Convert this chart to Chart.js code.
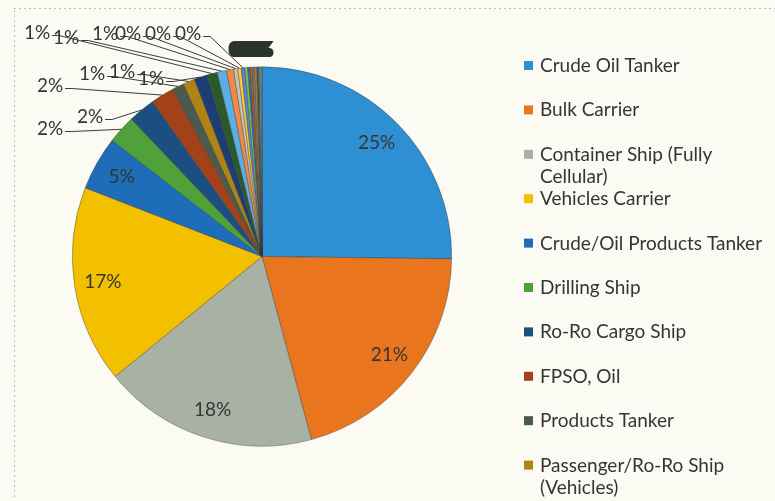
<!DOCTYPE html>
<html>
<head>
<meta charset="utf-8">
<script src="https://cdn.jsdelivr.net/npm/chart.js@4.4.1/dist/chart.umd.min.js"></script>
<style>
  html, body { margin: 0; padding: 0; background: #fbfaf3; }
  #wrap { position: relative; width: 775px; height: 501px; }
</style>
</head>
<body>
<div id="wrap"><canvas id="shipTypeChart" width="775" height="501"></canvas></div>
<script>
// Fleet share by ship type (percent of total)
const shipTypes = [
    'Crude Oil Tanker', 'Bulk Carrier', 'Container Ship (Fully\nCellular)', 'Vehicles Carrier',
    'Crude/Oil Products Tanker', 'Drilling Ship', 'Ro-Ro Cargo Ship', 'FPSO, Oil', 'Products Tanker',
    'Passenger/Ro-Ro Ship\n(Vehicles)', 'Chemical/Products Tanker', 'General Cargo Ship', 'LPG Tanker',
    'LNG Tanker', 'Offshore Supply Ship', 'Cruise Ship', 'Heavy Load Carrier', 'Chemical Tanker',
    'Refrigerated Cargo Ship', 'Tug', 'Research Vessel', 'Pipe Layer', 'Crane Ship',
    'Cement Carrier', 'Dredger', 'Fishing Vessel', 'Wood Chips Carrier'
];
const sharePct = [
    25.2, 20.6, 18.3, 16.8, 4.6, 2.4, 2.3, 2.0, 1.0, 1.0, 1.1, 0.9, 0.8, 0.6,
    0.35, 0.3, 0.3, 0.25, 0.2, 0.2, 0.2, 0.15, 0.15, 0.1, 0.1, 0.05, 0.05
];
const sliceColors = [
    '#2e8fd3', '#e9761f', '#a9b1a4', '#f3c000', '#1e6db9', '#4fa23a', '#1b4f82', '#a3421a',
    '#4a5a4c', '#b08414', '#1d3e72', '#2b5a2a', '#5daee6', '#f08a45', '#c5c5c0', '#facd33',
    '#5b86d0', '#7cbf5b', '#2670b0', '#c9580f', '#7a7a7a', '#c79a00', '#2e55a0', '#558a35',
    '#8dc0e8', '#f2b07f', '#d8cfa8'
];

const FONT = "'Lato', 'Open Sans', sans-serif";
const TEXT_COLOR = '#353535';

// Percent labels: large slices inside, small ones outside with leader lines
const pieLabels = {
    id: 'pieLabels',
    afterDatasetsDraw(chart, args, opts) {
        const {ctx} = chart;
        const meta = chart.getDatasetMeta(0);
        const values = chart.data.datasets[0].data;
        const total = values.reduce((a, b) => a + b, 0);
        ctx.save();
        ctx.font = `${opts.fontSize}px ${FONT}`;
        ctx.fillStyle = TEXT_COLOR;
        ctx.strokeStyle = '#3c3c3c';
        ctx.lineWidth = 1;
        ctx.textAlign = 'center';
        ctx.textBaseline = 'middle';
        meta.data.forEach((arc, i) => {
            const {x, y, startAngle, endAngle, outerRadius} = arc.getProps(
                ['x', 'y', 'startAngle', 'endAngle', 'outerRadius'], true);
            const mid = (startAngle + endAngle) / 2;
            const text = Math.round(values[i] / total * 100) + '%';
            if (values[i] >= opts.insideMin) {
                const r = outerRadius * opts.insideRatio;
                ctx.fillText(text, x + Math.cos(mid) * r, y + Math.sin(mid) * r);
                return;
            }
            const off = opts.outside[i - opts.firstOutside];
            if (!off) return;
            const lx = x + off[0];
            const ly = y + off[1];
            if (i >= opts.clusterFrom) {
                // the last tiny slices all stack their labels on top of each other
                ctx.save();
                ctx.strokeStyle = '#2c352c';
                ctx.fillStyle = '#2c352c';
                ctx.lineWidth = 2.2;
                ctx.strokeText(text, lx, ly);
                ctx.fillText(text, lx, ly);
                ctx.restore();
                return;
            }
            ctx.fillText(text, lx, ly);
            // leader line from the label's right edge to the slice rim
            const ex = x + Math.cos(mid) * outerRadius;
            const ey = y + Math.sin(mid) * outerRadius;
            const sx = lx + ctx.measureText(text).width / 2 + 2;
            const sy = ly + 3;
            ctx.beginPath();
            ctx.moveTo(sx, sy);
            ctx.lineTo(sx + 7, sy);
            ctx.lineTo(ex, ey);
            ctx.stroke();
        });
        ctx.restore();
    }
};

// Legend column to the right of the pie
const sideLegend = {
    id: 'sideLegend',
    afterDraw(chart, args, opts) {
        const {ctx} = chart;
        const colors = chart.data.datasets[0].backgroundColor;
        ctx.save();
        ctx.font = `${opts.fontSize}px ${FONT}`;
        ctx.textBaseline = 'alphabetic';
        ctx.textAlign = 'left';
        chart.data.labels.forEach((name, i) => {
            const base = opts.firstBaseline + i * opts.rowGap;
            ctx.fillStyle = colors[i];
            ctx.fillRect(opts.x, base - 11, 9, 9);
            ctx.fillStyle = TEXT_COLOR;
            name.split('\n').forEach((line, j) => {
                ctx.fillText(line, opts.x + 16, base + j * opts.lineHeight);
            });
        });
        ctx.restore();
    }
};

// faint dotted frame left over along the top and left
const frame = {
    id: 'frame',
    beforeDraw(chart) {
        const {ctx} = chart;
        ctx.save();
        ctx.strokeStyle = 'rgba(110,110,110,0.45)';
        ctx.setLineDash([2, 3]);
        ctx.beginPath();
        ctx.moveTo(14, 8.5);
        ctx.lineTo(775, 8.5);
        ctx.moveTo(14.5, 10);
        ctx.lineTo(14.5, 500);
        ctx.stroke();
        ctx.restore();
    }
};

new Chart(document.getElementById('shipTypeChart'), {
    type: 'pie',
    data: {
        labels: shipTypes,
        datasets: [{
            data: sharePct,
            backgroundColor: sliceColors,
            borderColor: 'rgba(50,50,50,0.55)',
            borderWidth: 0.7,
            hoverOffset: 0
        }]
    },
    options: {
        responsive: false,
        animation: false,
        layout: { padding: { top: 66, bottom: 54, left: 72, right: 323 } },
        plugins: {
            legend: { display: false },
            tooltip: { enabled: false },
            pieLabels: {
                fontSize: 19,
                insideMin: 4,
                insideRatio: 0.85,
                firstOutside: 5,
                clusterFrom: 17,
                outside: [
                    [-212, -128], [-172, -140], [-212, -171], [-170, -183], [-140, -185],
                    [-111, -178], [-225, -224], [-196, -219], [-157, -223], [-134, -223],
                    [-104, -223], [-74, -223],
                    [-20, -207], [-18, -207], [-16, -207], [-14, -207], [-12, -207],
                    [-10, -207], [-8, -207], [-6, -207], [-4, -207], [-2, -207]
                ]
            },
            sideLegend: {
                x: 524,
                firstBaseline: 72,
                rowGap: 44.4,
                lineHeight: 22,
                fontSize: 19
            }
        }
    },
    plugins: [frame, pieLabels, sideLegend]
});
</script>
</body>
</html>
